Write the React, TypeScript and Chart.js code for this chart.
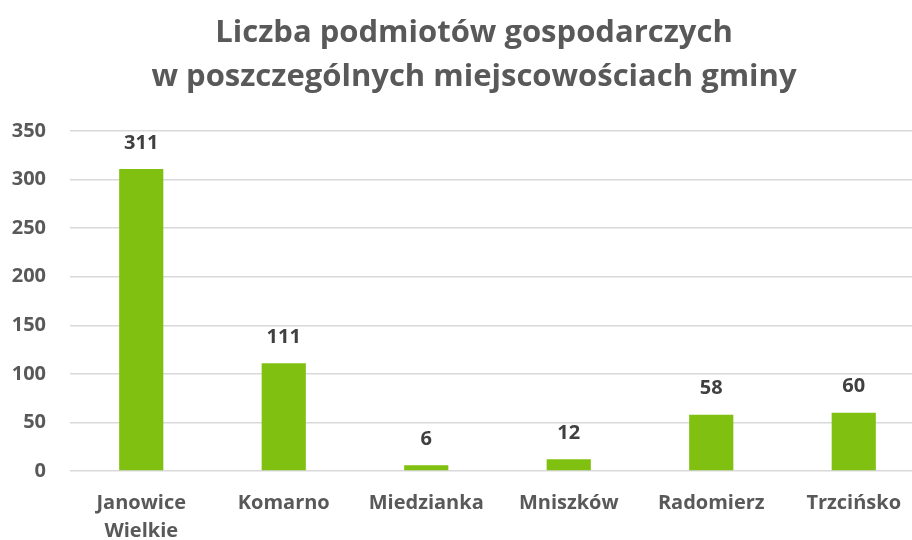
import React, { useEffect, useRef } from "react";
import { Chart, registerables } from "chart.js";

Chart.register(...registerables);

const titleLines = ["Liczba podmiotów gospodarczych", "w poszczególnych miejscowościach gminy"];
const categories: (string | string[])[] = [["Janowice", "Wielkie"], "Komarno", "Miedzianka", "Mniszków", "Radomierz", "Trzcińsko"];
const values = [311, 111, 6, 12, 58, 60];
const yTicks = [0, 50, 100, 150, 200, 250, 300, 350];

const FONT = "'Open Sans', sans-serif";

const valueLabels = {
  id: "valueLabels",
  afterDatasetsDraw(chart: any) {
    const ctx = chart.ctx;
    const meta = chart.getDatasetMeta(0);
    ctx.save();
    ctx.font = `bold 20px ${FONT}`;
    ctx.fillStyle = "#404040";
    ctx.textAlign = "center";
    ctx.textBaseline = "middle";
    meta.data.forEach((bar: any, i: number) => {
      ctx.fillText(String(chart.data.datasets[0].data[i]), bar.x, bar.y - 26);
    });
    ctx.restore();
  },
};

const titlePlugin = {
  id: "customTitle",
  afterDraw(chart: any) {
    const ctx = chart.ctx;
    ctx.save();
    ctx.font = `bold 31px ${FONT}`;
    ctx.fillStyle = "#595959";
    ctx.textAlign = "center";
    ctx.textBaseline = "middle";
    titleLines.forEach((line, i) => {
      ctx.fillText(line, 474, 33 + i * 44);
    });
    ctx.restore();
  },
};

export default function App() {
  const ref = useRef<HTMLCanvasElement | null>(null);
  useEffect(() => {
    if (!ref.current) return;
    const chart = new Chart(ref.current, {
      type: "bar",
      data: {
        labels: categories,
        datasets: [
          {
            data: values,
            backgroundColor: "#80C011",
            barPercentage: 0.31,
            categoryPercentage: 1,
          },
        ],
      },
      options: {
        animation: false,
        responsive: false,
        layout: { padding: { left: 12, right: 0, top: 131, bottom: 0 } },
        plugins: {
          legend: { display: false },
          tooltip: { enabled: false },
          title: { display: false },
        },
        scales: {
          x: {
            grid: { display: false },
            border: { display: false },
            afterFit: (scale: any) => {
              scale.height = 69;
              scale.paddingLeft = 0;
              scale.paddingRight = 0;
            },
            ticks: {
              color: "#595959",
              font: { family: FONT, size: 20, weight: "bold", lineHeight: 1.4 },
              padding: 10,
              maxRotation: 0,
              autoSkip: false,
            },
          },
          y: {
            min: 0,
            max: 350,
            afterBuildTicks: (scale: any) => {
              scale.ticks = yTicks.map((v) => ({ value: v }));
            },
            afterFit: (scale: any) => {
              scale.width = 58;
            },
            grid: { color: "#d9d9d9", lineWidth: 1.5, drawTicks: false },
            border: { display: false },
            ticks: {
              color: "#595959",
              font: { family: FONT, size: 20, weight: "bold" },
              padding: 24,
            },
          },
        },
      },
      plugins: [valueLabels, titlePlugin],
    });
    return () => chart.destroy();
  }, []);
  return (
    <div style={{ position: "fixed", left: 0, top: 0, width: 912, height: 540, overflow: "hidden", background: "#fff" }}>
      <canvas ref={ref} width={925} height={540} style={{ display: "block" }} />
    </div>
  );
}
